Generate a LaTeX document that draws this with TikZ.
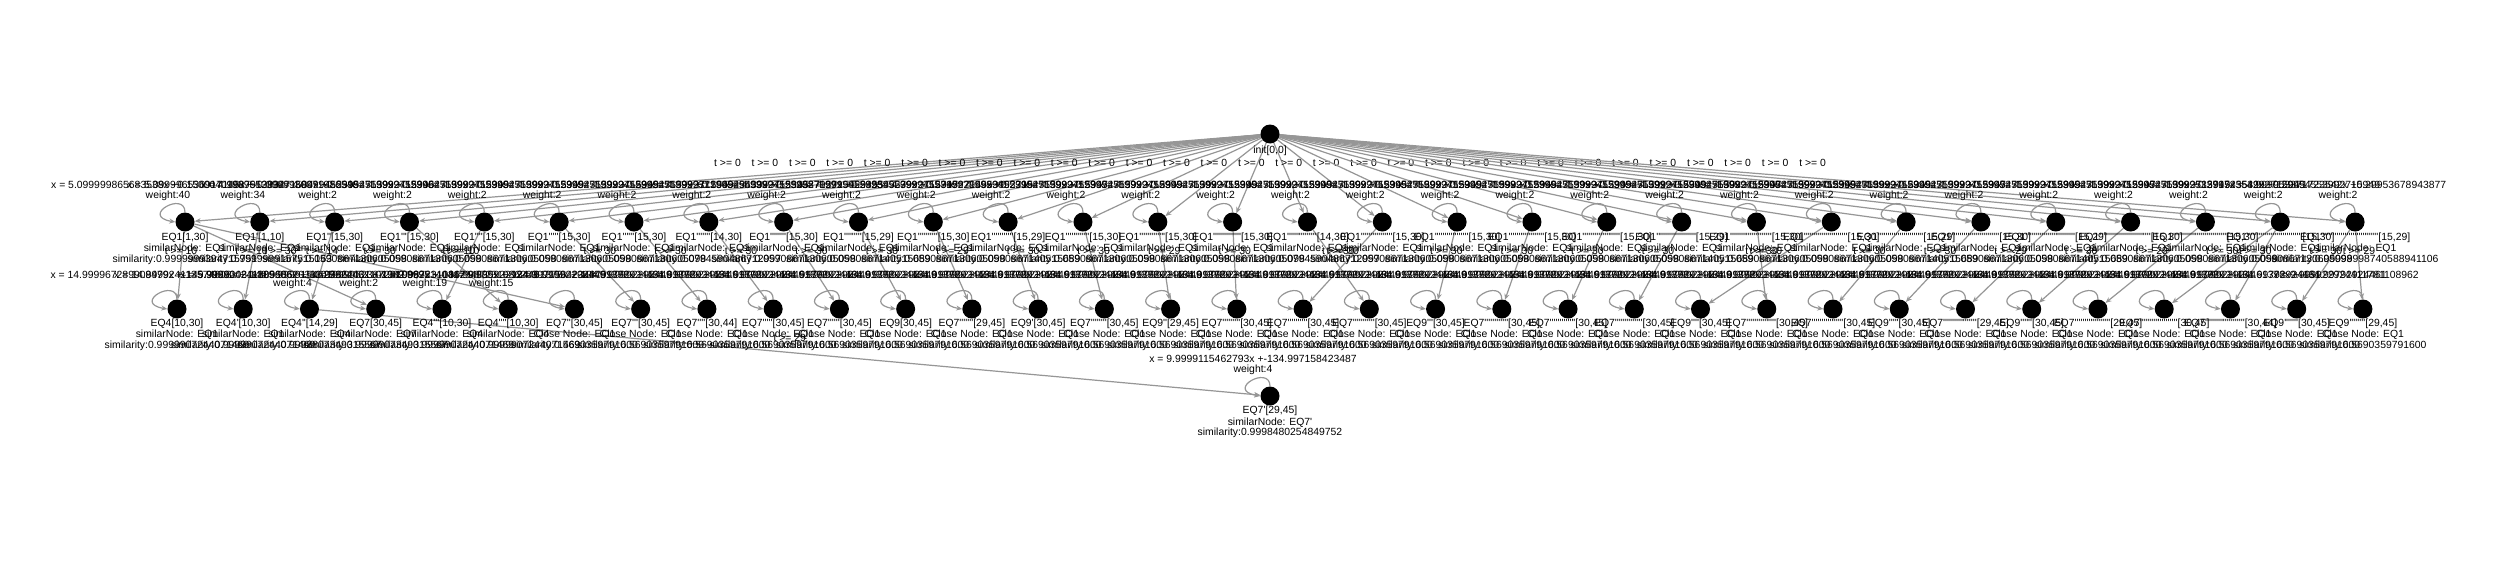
\documentclass[tikz,border=0pt]{standalone}
\usepackage{fontspec}
\setmainfont{Liberation Sans}[Ligatures=TeXOff]
\usetikzlibrary{arrows.meta,calc}
\ExplSyntaxOn
\cs_new:Npn \myprimes #1 { \prg_replicate:nn {#1} { ' } }
\ExplSyntaxOff
\definecolor{edgegray}{RGB}{150,150,150}
\pgfdeclarelayer{back}
\pgfdeclarelayer{bg}
\pgfsetlayers{back,bg,main}
\tikzset{
  st/.style={circle,fill=black,minimum size=19pt,inner sep=0pt},
  ln/.style={draw=edgegray,line width=1.2pt},
  arr/.style={ln,-{Stealth[length=6pt,width=5pt]}},
  txt/.style={inner sep=0pt,anchor=base,font=\fontsize{10.4}{11.5}\selectfont,text=black},
  elab/.style={txt,yshift=11.5pt},
  selfloop/.style={arr},
}
\begin{document}
\begin{tikzpicture}[x=1pt,y=-1pt]
\useasboundingbox (0,0) rectangle (2500,562);
\begin{pgfonlayer}{back}
\fill[white] (0,0) rectangle (2500,562);
\end{pgfonlayer}
% root
\node[st] (root) at (1270,134) {};
\node[txt] (rootlab) at (1270,153) {init[0,0]};
% row 1
\foreach \i/\br/\w/\sm/\lp in {
 0/{[1,30]}/40/0.9999999394715751/5.099999865683538x +0.15000401987912834,
 1/{[1,10]}/34/0.9999999157515163/5.099996536917146x +-0.0999930071986548,
 2/{[15,30]}/2/0.0590867130605098/4.999955399271584x +0.29954553992715946,
 3/{[15,30]}/2/0.0590867130605098/4.999945539927159x +0.29954553992715949,
 4/{[15,30]}/2/0.0590867130605098/4.999945539927159x +0.29954553992715949,
 5/{[15,30]}/2/0.0590867130605098/4.999945539927159x +0.29954553992715949,
 6/{[15,30]}/2/0.0590867130605098/4.999945539927159x +0.29954553992715949,
 7/{[14,30]}/2/0.0794590486712997/4.999945539927159x +0.29954553992715945,
 8/{[15,30]}/2/0.0590867130605098/4.999937156929453x +0.25238792715929455,
 9/{[15,29]}/2/0.0590867140515689/4.999945539927159x +0.29954553992715947,
 10/{[15,30]}/2/0.0590867130605098/4.999945532399279x +0.27159294553992715,
 11/{[15,29]}/2/0.0590867140515689/4.999945539927159x +0.29954553992715947,
 12/{[15,30]}/2/0.0590867130605098/4.999945539927159x +0.29954553992715949,
 13/{[15,30]}/2/0.0590867130605098/4.999945539927159x +0.29954553992715949,
 14/{[15,30]}/2/0.0590867130605098/4.999945539927159x +0.29954553992715949,
 15/{[14,30]}/2/0.0794590486712997/4.999945539927159x +0.29954553992715945,
 16/{[15,30]}/2/0.0590867130605098/4.999945539927159x +0.29954553992715949,
 17/{[15,30]}/2/0.0590867130605098/4.999945539927159x +0.29954553992715949,
 18/{[15,30]}/2/0.0590867130605098/4.999945539927159x +0.29954553992715949,
 19/{[15,30]}/2/0.0590867130605098/4.999945539927159x +0.29954553992715949,
 20/{[15,29]}/2/0.0590867140515689/4.999945539927159x +0.29954553992715947,
 21/{[15,30]}/2/0.0590867130605098/4.999945539927159x +0.29954553992715949,
 22/{[15,30]}/2/0.0590867130605098/4.999945539927159x +0.29954553992715949,
 23/{[15,29]}/2/0.0590867140515689/4.999945539927159x +0.29954553992715947,
 24/{[15,30]}/2/0.0590867130605098/4.999945539927159x +0.29954553992715949,
 25/{[15,29]}/2/0.0590867140515689/4.999945539927159x +0.29954553992715947,
 26/{[15,30]}/2/0.0590867130605098/4.999945539927159x +0.29954553992715949,
 27/{[15,30]}/2/0.0590867130605098/4.999945539927159x +0.29954553992715949,
 28/{[15,30]}/2/0.0590867130605098/4.999953371723542x +0.29954553992715949,
 29/{[15,29]}/2/0.99999998740588941106/4.999953371723542x +0.29953678943877}
{
  \pgfmathsetmacro\xx{185+74.83*\i}
  \node[st] (a\i) at (\xx,222) {};
  \node[txt] (a\i l1) at (\xx,240.3) {EQ1\myprimes{\i}\br};
  \node[txt] (a\i l2) at (\xx,251.6) {similarNode: EQ1};
  \node[txt] (a\i l3) at (\xx,262.6) {similarity:\sm};
  \node[txt] (a\i w1) at (\xx-17,188.5) {x = \lp};
  \node[txt] (a\i w2) at (\xx-17,198.8) {weight:\w};
  \begin{pgfonlayer}{bg}
    \draw[arr] (root) -- (a\i) node[elab,pos=0.5] {t >= 0};
    \draw[selfloop] (a\i.north) .. controls +(0,-22) and +(-36,-6) .. (a\i.west);
  \end{pgfonlayer}
}
% row 2
\foreach \j/\nm/\br/\sn/\sm/\lp/\w in {
 0/EQ4/{[10,30]}/similarNode: EQ1/0.9999907244071469/14.999967289908479x +-149.99882031180/{},
 1/EQ4'/{[10,30]}/similarNode: EQ1/0.9999907244071469/14.999924113574608x +-149.998620311019/{},
 2/EQ4''/{[14,29]}/similarNode: EQ4/0.9998807349315567/5.999904241135606x +-83.99862031101982/4,
 3/EQ7/{[30,45]}/similarNode: EQ7/0.9999907349315567/9.999915462792446x +-134.99872310862/2,
 4/EQ4'''/{[10,30]}/similarNode: EQ4/0.9999907244071469/9.999523872310862x +-134.9987231086203/19,
 5/EQ4''''/{[10,30]}/similarNode: EQ4/0.9999907244071469/9.999514041794835x +-134.997158423487/15,
 6/EQ7''/{[30,45]}/Close Node: EQ1/0.5690359791600/9.999922924461378x +-134.99792924461/{},
 7/EQ7'''/{[30,45]}/Close Node: EQ1/0.5690359791600/9.999922924461378x +-134.99792924461/{},
 8/EQ7''''/{[30,44]}/Close Node: EQ1/0.5690359791600/9.999922924461378x +-134.99792924461/{},
 9/EQ7'''''/{[30,45]}/Close Node: EQ1/0.5690359791600/9.999922924461378x +-134.99792924461/{},
 10/EQ7''''''/{[30,45]}/Close Node: EQ1/0.5690359791600/9.999922924461378x +-134.99792924461/{},
 11/EQ9/{[30,45]}/Close Node: EQ1/0.5690359791600/9.999922924461378x +-134.99792924461/{},
 12/EQ7'''''''/{[29,45]}/Close Node: EQ1/0.5690359791600/9.999922924461378x +-134.99792924461/{},
 13/EQ9'/{[30,45]}/Close Node: EQ1/0.5690359791600/9.999922924461378x +-134.99792924461/{},
 14/EQ7''''''''/{[30,45]}/Close Node: EQ1/0.5690359791600/9.999922924461378x +-134.99792924461/{},
 15/EQ9''/{[29,45]}/Close Node: EQ1/0.5690359791600/9.999922924461378x +-134.99792924461/{},
 16/EQ7'''''''''/{[30,45]}/Close Node: EQ1/0.5690359791600/9.999922924461378x +-134.99792924461/{},
 17/EQ7''''''''''/{[30,45]}/Close Node: EQ1/0.5690359791600/9.999922924461378x +-134.99792924461/{},
 18/EQ7'''''''''''/{[30,45]}/Close Node: EQ1/0.5690359791600/9.999922924461378x +-134.99792924461/{},
 19/EQ9'''/{[30,45]}/Close Node: EQ1/0.5690359791600/9.999922924461378x +-134.99792924461/{},
 20/EQ7''''''''''''/{[30,45]}/Close Node: EQ1/0.5690359791600/9.999922924461378x +-134.99792924461/{},
 21/EQ7'''''''''''''/{[30,45]}/Close Node: EQ1/0.5690359791600/9.999922924461378x +-134.99792924461/{},
 22/EQ7''''''''''''''/{[30,45]}/Close Node: EQ1/0.5690359791600/9.999922924461378x +-134.99792924461/{},
 23/EQ9''''/{[30,45]}/Close Node: EQ1/0.5690359791600/9.999922924461378x +-134.99792924461/{},
 24/EQ7'''''''''''''''/{[30,45]}/Close Node: EQ1/0.5690359791600/9.999922924461378x +-134.99792924461/{},
 25/EQ7''''''''''''''''/{[30,45]}/Close Node: EQ1/0.5690359791600/9.999922924461378x +-134.99792924461/{},
 26/EQ9'''''/{[30,45]}/Close Node: EQ1/0.5690359791600/9.999922924461378x +-134.99792924461/{},
 27/EQ7'''''''''''''''''/{[29,45]}/Close Node: EQ1/0.5690359791600/9.999922924461378x +-134.99792924461/{},
 28/EQ9''''''/{[30,45]}/Close Node: EQ1/0.5690359791600/9.999922924461378x +-134.99792924461/{},
 29/EQ7''''''''''''''''''/{[29,45]}/Close Node: EQ1/0.5690359791600/9.999922924461378x +-134.99792924461/{},
 30/EQ7'''''''''''''''''''/{[30,45]}/Close Node: EQ1/0.5690359791600/9.999922924461378x +-134.99792924461/{},
 31/EQ7''''''''''''''''''''/{[30,44]}/Close Node: EQ1/0.5690359791600/9.999922924461378x +-134.99792924461/{},
 32/EQ9'''''''/{[30,45]}/Close Node: EQ1/0.5690359791600/9.999922924461378x +-134.99792924461/{},
 33/EQ9''''''''/{[29,45]}/Close Node: EQ1/0.5690359791600/9.999922924411781108962/{}}
{
  \pgfmathsetmacro\xx{177+66.24*\j}
  \node[st] (b\j) at (\xx,309) {};
  \node[txt] (b\j l1) at (\xx,326) {\nm\br};
  \node[txt] (b\j l2) at (\xx,337.5) {\sn};
  \node[txt] (b\j l3) at (\xx,348.5) {similarity:\sm};
  \node[txt] (b\j w1) at (\xx-17,278.5) {x = \lp};
  \node[txt] (b\j w2) at (\xx-17,286.8) {\ifx\w\empty\else weight:\w\fi};
  \begin{pgfonlayer}{bg}
    \draw[selfloop] (b\j.north) .. controls +(0,-22) and +(-36,-6) .. (b\j.west);
  \end{pgfonlayer}
}
% bottom node
\node[st] (c0) at (1270,396) {};
\node[txt] (c0l1) at (1270,413.5) {EQ7'[29,45]};
\node[txt] (c0l2) at (1270,425) {similarNode: EQ7'};
\node[txt] (c0l3) at (1270,435.8) {similarity:0.9998480254849752};
\node[txt] (c0w1) at (1253,362) {x = 9.9999115462793x +-134.997158423487};
\node[txt] (c0w2) at (1253,372) {weight:4};
\begin{pgfonlayer}{bg}
  \draw[selfloop] (c0.north) .. controls +(0,-22) and +(-36,-6) .. (c0.west);
  \draw[arr] (b2) -- (c0) node[elab,pos=0.5] {t >= 29};
  \foreach \i/\j/\g in {0/0/10,0/3/30,0/6/30,1/1/10,2/2/14,3/5/10,4/4/10,5/7/30,6/8/30,7/9/30,
     8/10/30,9/11/30,10/12/29,11/13/30,12/14/30,13/15/29,14/16/30,15/18/30,16/17/30,17/19/30,
     18/20/30,19/21/30,20/22/30,21/24/30,22/23/30,23/25/30,24/26/30,25/27/29,26/28/30,27/29/29,
     28/30/30,28/31/30,29/32/30,29/33/29}
  { \draw[arr] (a\i) -- (b\j) node[elab,pos=0.5] {t >= \g}; }
\end{pgfonlayer}
\end{tikzpicture}
\end{document}
